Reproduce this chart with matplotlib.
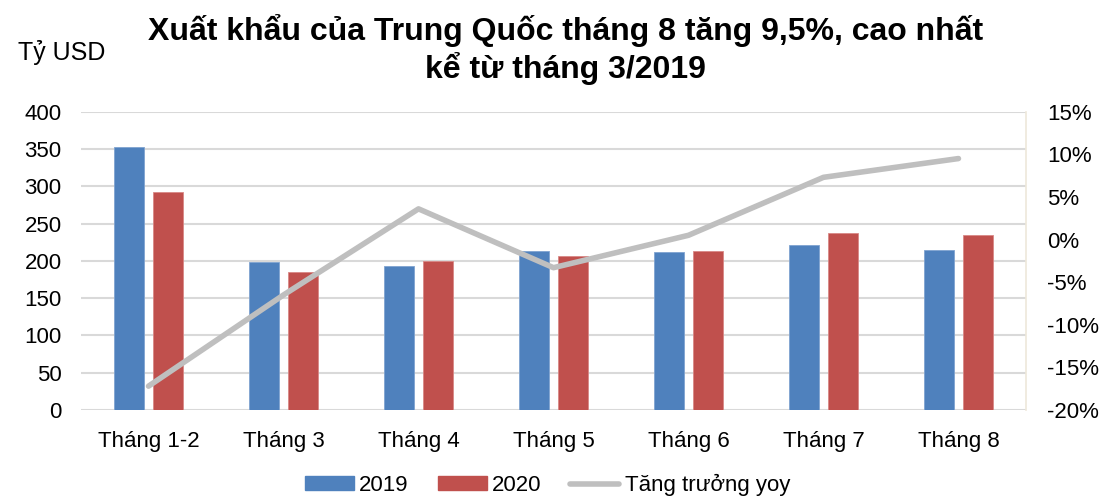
import numpy as np
import matplotlib.pyplot as plt
from matplotlib.lines import Line2D
from matplotlib.patches import Patch

plt.rcParams['font.family'] = ['Liberation Sans', 'DejaVu Sans']

categories = ["Tháng 1-2", "Tháng 3", "Tháng 4", "Tháng 5", "Tháng 6", "Tháng 7", "Tháng 8"]
exports_2019 = [353, 199, 193, 213, 212, 221, 214]
exports_2020 = [292, 185, 200, 206, 213, 237, 235]
growth_yoy = [-17.2, -6.5, 3.6, -3.3, 0.5, 7.3, 9.5]

left_ticks = [0, 50, 100, 150, 200, 250, 300, 350, 400]
right_ticks = [-20, -15, -10, -5, 0, 5, 10, 15]

c_2019 = "#4F81BD"
c_2020 = "#C0504D"
c_line = "#BFBFBF"

fig = plt.figure(figsize=(11.07, 4.97), dpi=100)
ax = fig.add_axes([0.0732, 0.175, 0.8536, 0.6003])
x = np.arange(len(categories))
w = 0.222
ax.bar(x - 0.145, exports_2019, w, color=c_2019, edgecolor="#7FA3D0", linewidth=0.6, zorder=3)
ax.bar(x + 0.145, exports_2020, w, color=c_2020, edgecolor="#D98886", linewidth=0.6, zorder=3)
ax.set_xlim(-0.5, len(categories) - 0.5)
ax.set_ylim(0, 400)
ax.set_yticks(left_ticks)
ax.set_xticks(x)
ax.set_xticklabels(categories)
ax.grid(axis="y", color="#D9D9D9", linewidth=1.5, zorder=0)
ax.tick_params(axis="both", length=0, labelsize=16, colors="black")
ax.tick_params(axis="y", pad=14)
ax.tick_params(axis="x", pad=15)
for s in ["top", "left", "bottom"]:
    ax.spines[s].set_visible(False)
ax.spines["right"].set_color("#EEE8DA")
ax.spines["right"].set_linewidth(1.2)

ax2 = ax.twinx()
ax2.plot(x, growth_yoy, color=c_line, linewidth=4, solid_capstyle="round", zorder=4)
ax2.set_ylim(-20, 15)
ax2.set_yticks(right_ticks)
ax2.set_yticklabels([f"{t}%" for t in right_ticks])
ax2.tick_params(axis="y", length=0, labelsize=16, pad=15)
for s in ax2.spines.values():
    s.set_visible(False)

fig.text(0.511, 0.9, "Xuất khẩu của Trung Quốc tháng 8 tăng 9,5%, cao nhất\nkể từ tháng 3/2019",
         ha="center", va="center", fontsize=23, fontweight="bold", linespacing=1.2)
fig.text(0.016, 0.895, "Tỷ USD", ha="left", va="center", fontsize=18)

handles = [Patch(color=c_2019, label="2019"),
           Patch(color=c_2020, label="2020"),
           Line2D([0], [0], color=c_line, linewidth=4, solid_capstyle="round", label="Tăng trưởng yoy")]
fig.legend(handles=handles, loc="center", bbox_to_anchor=(0.4946, 0.024), ncol=3, frameon=False,
           fontsize=16, handlelength=2.2, handleheight=0.6, handletextpad=0.25, columnspacing=1.3)

fig.savefig("out.png", dpi=100)
